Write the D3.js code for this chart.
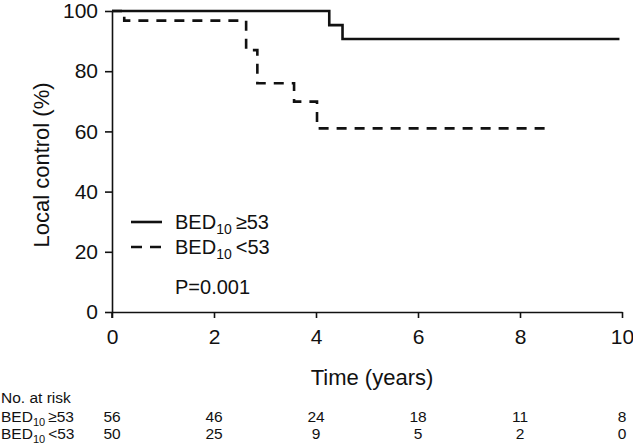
<!DOCTYPE html>
<html><head><meta charset="utf-8">
<script src="https://cdn.jsdelivr.net/npm/d3@7"></script>
<style>body{margin:0;background:#fff}svg{display:block}text{font-family:"Liberation Sans",Arial,sans-serif;fill:#111}</style>
</head><body>
<script>
const xTicks = [0, 2, 4, 6, 8, 10];
const yTicks = [0, 20, 40, 60, 80, 100];
const highTimes = [0, 4.26, 4.52, 9.95];
const highValues = [100, 95.3, 90.7, 90.7];
const lowTimes = [0, 0.24, 2.63, 2.85, 3.57, 4.02, 8.57];
const lowValues = [100, 96.8, 87.0, 76.0, 69.9, 61.0, 61.0];
const riskHigh = [56, 46, 24, 18, 11, 8];
const riskLow = [50, 25, 9, 5, 2, 0];
const groupLabels = ["≥53", "<53"];

const W = 633, H = 446;
const svg = d3.select("body").append("svg").attr("width", W).attr("height", H);
const x = d3.scaleLinear().domain([0, 10]).range([112, 622]);
const y = d3.scaleLinear().domain([0, 100]).range([312, 11]);

const xAxis = svg.append("g").attr("transform", "translate(0,312)")
  .call(d3.axisBottom(x).tickValues(xTicks).tickSize(6).tickSizeOuter(0).tickPadding(11));
const yAxis = svg.append("g").attr("transform", "translate(112,0)")
  .call(d3.axisLeft(y).tickValues(yTicks).tickSize(7).tickSizeOuter(0).tickPadding(7));
[xAxis, yAxis].forEach(g => {
  g.select(".domain").attr("stroke", "#111").attr("stroke-width", 1.6);
  g.selectAll(".tick line").attr("stroke", "#111").attr("stroke-width", 1.6);
  g.selectAll(".tick text").attr("font-size", 21).attr("fill", "#111")
    .style("font-family", '"Liberation Sans",Arial,sans-serif');
});
// y-axis continues slightly below the x-axis, as in the reference
svg.append("line").attr("x1", 112).attr("x2", 112).attr("y1", 312).attr("y2", 318)
  .attr("stroke", "#111").attr("stroke-width", 1.6);

const line = d3.line().x(d => x(d[0])).y(d => y(d[1])).curve(d3.curveStepAfter);
const high = highTimes.map((t, i) => [t, highValues[i]]);
const low = lowTimes.map((t, i) => [t, lowValues[i]]);
svg.append("path").attr("d", line(low)).attr("fill", "none").attr("stroke", "#111")
  .attr("stroke-width", 2.6).attr("stroke-dasharray", "10,8");
svg.append("path").attr("d", line(high)).attr("fill", "none").attr("stroke", "#111")
  .attr("stroke-width", 2.6);

// axis titles
svg.append("text").attr("x", 372).attr("y", 385).attr("text-anchor", "middle")
  .attr("font-size", 22).text("Time (years)");
svg.append("text").attr("transform", "translate(49,165) rotate(-90)").attr("text-anchor", "middle")
  .attr("font-size", 22).text("Local control (%)");

// legend
function bedLabel(sel, sub, shift, gap, suffix) {
  sel.append("tspan").text("BED");
  sel.append("tspan").attr("font-size", sub).attr("dy", shift).text("10");
  sel.append("tspan").attr("dy", -shift).attr("dx", gap).text(suffix);
}
const legY = [222, 247];
svg.append("line").attr("x1", 131).attr("x2", 162).attr("y1", legY[0]).attr("y2", legY[0])
  .attr("stroke", "#111").attr("stroke-width", 2.6);
svg.append("line").attr("x1", 131).attr("x2", 162).attr("y1", legY[1]).attr("y2", legY[1])
  .attr("stroke", "#111").attr("stroke-width", 2.6).attr("stroke-dasharray", "11,8");
groupLabels.forEach((g, i) => {
  const t = svg.append("text").attr("x", 175).attr("y", legY[i] + 7).attr("font-size", 20);
  bedLabel(t, 14, 5, 4, g);
});
svg.append("text").attr("x", 175).attr("y", 294).attr("font-size", 20).text("P=0.001");

// risk table
svg.append("text").attr("x", 1).attr("y", 403).attr("font-size", 15.5).text("No. at risk");
[riskHigh, riskLow].forEach((row, i) => {
  const yy = 422 + i * 17;
  const t = svg.append("text").attr("x", 1).attr("y", yy).attr("font-size", 15.5);
  bedLabel(t, 11, 4, 3, groupLabels[i]);
  svg.selectAll(null).data(row).enter().append("text")
    .attr("x", (d, j) => x(xTicks[j])).attr("y", yy).attr("text-anchor", "middle")
    .attr("font-size", 15.5).text(d => d);
});
</script>
</body></html>
